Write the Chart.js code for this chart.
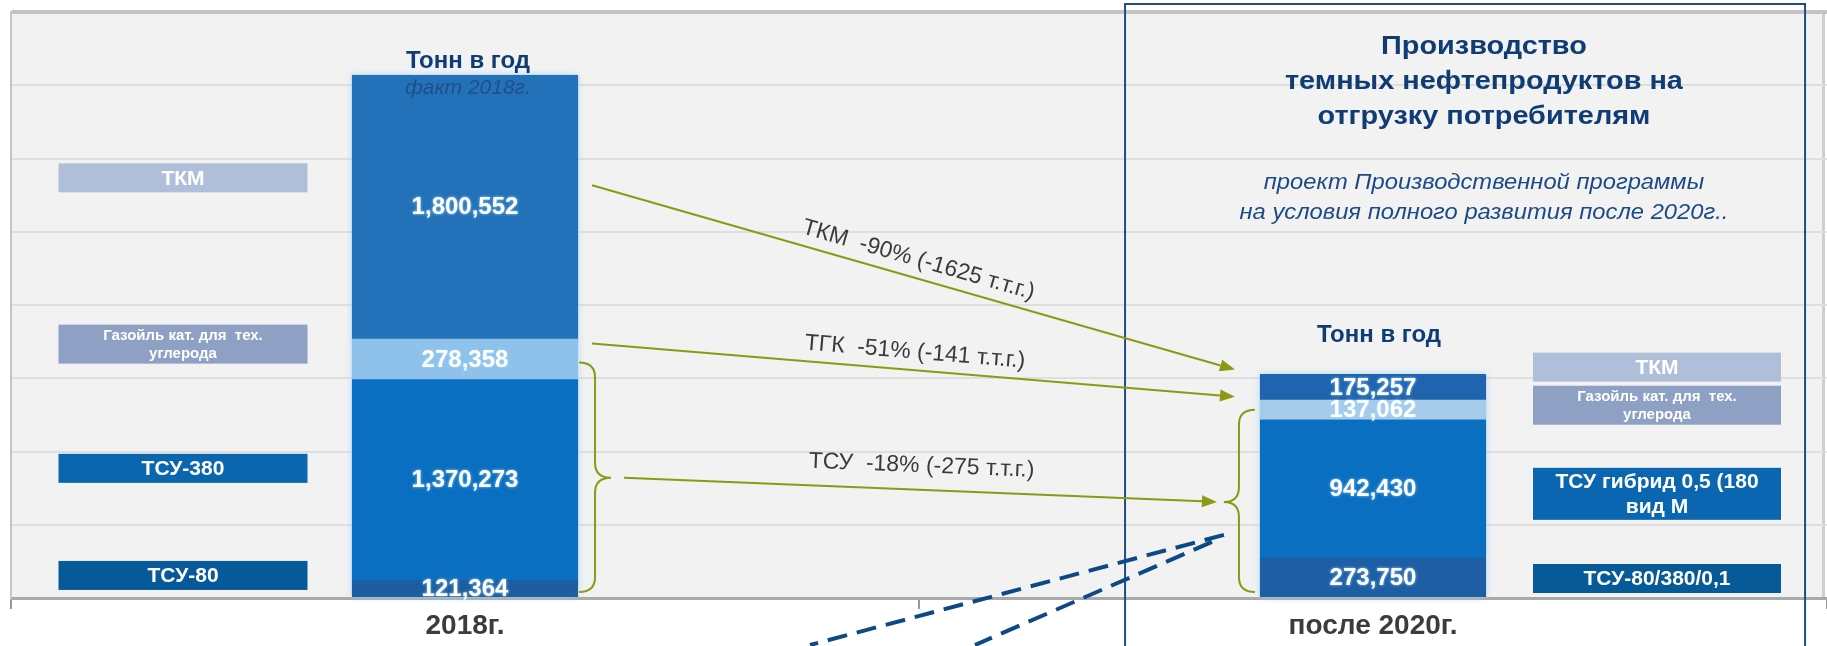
<!DOCTYPE html>
<html lang="ru">
<head>
<meta charset="utf-8">
<title>Производство темных нефтепродуктов</title>
<script src="https://cdn.jsdelivr.net/npm/chart.js@4.4.1/dist/chart.umd.min.js"></script>
<style>
  html, body { margin: 0; padding: 0; background: #ffffff; }
  canvas { display: block; }
</style>
</head>
<body>
<canvas id="chart" width="1827" height="646"></canvas>
<script>
// периоды и объемы, тонн в год
const periods = ['2018г.', 'после 2020г.'];
const tsu80 = [121364, 273750];
const tsu380 = [1370273, 942430];
const gasoil = [278358, 137062];
const tkm = [1800552, 175257];
const yMax = 4000000;
const yStep = 500000;

// подписи изменений между периодами
const shiftLabels = ['ТКМ  -90% (-1625 т.т.г.)', 'ТГК  -51% (-141 т.т.г.)', 'ТСУ  -18% (-275 т.т.г.)'];
const leftTags = [['ТКМ'], ['Газойль кат. для  тех.', 'углерода'], ['ТСУ-380'], ['ТСУ-80']];
const rightTags = [['ТКМ'], ['Газойль кат. для  тех.', 'углерода'], ['ТСУ гибрид 0,5 (180', 'вид М'], ['ТСУ-80/380/0,1']];
const panelTitle = ['Производство', 'темных нефтепродуктов на', 'отгрузку потребителям'];
const panelNote = ['проект Производственной программы', 'на условия полного развития после 2020г..'];
const barHeader = 'Тонн в год';
const factNote = 'факт 2018г.';

const FAMILY = '"Liberation Sans", Arial, sans-serif';
const NAVY = '#0f3d73';
const OLIVE = '#8b9a12';

function font(size, weight = 'normal', style = 'normal') {
  return `${style} ${weight} ${size}px ${FAMILY}`;
}

// text drawn a bit wider than the font, like the stretched slide text
function wideText(ctx, text, x, y, sx) {
  ctx.save();
  ctx.translate(x, y);
  ctx.scale(sx, 1);
  ctx.fillText(text, 0, 0);
  ctx.restore();
}

// where the arrows start/end (tonnes on y, px gap from the bar edges on x)
const arrowLayout = [
  {from: 2817000, to: 1559000, startGap: 14, endGap: 25, lift: 18},
  {from: 1737000, to: 1374000, startGap: 14, endGap: 25, lift: 18},
  {from: 820000, to: 656000, startGap: 46, endGap: 43, lift: 24},
];

// colored tags: center in tonnes, height in px
const leftTagLayout = [
  {y: 2868000, h: 29, color: '#afbfd9', size: 21},
  {y: 1733000, h: 39, color: '#8ea0c4', size: 15},
  {y: 885000, h: 29, color: '#0b66b0', size: 21},
  {y: 154000, h: 29, color: '#075a99', size: 21},
];
const rightTagLayout = [
  {y: 1576000, h: 29, color: '#afbfd9', size: 21},
  {y: 1316000, h: 39, color: '#8ea0c4', size: 15},
  {y: 711000, h: 52, color: '#0b66b1', size: 21},
  {y: 133000, h: 29, color: '#065a98', size: 21},
];

const plotBackground = {
  id: 'plotBackground',
  beforeDraw(chart) {
    const {ctx, chartArea: a} = chart;
    ctx.save();
    ctx.fillStyle = '#f2f2f2';
    ctx.fillRect(a.left, a.top, a.right - a.left - 4, a.bottom - a.top);
    ctx.fillStyle = '#cfcfcf';
    ctx.fillRect(a.right - 5, a.top, 3, a.bottom - a.top);
    ctx.restore();
  },
};

// light halo around each whole column
const barGlow = {
  id: 'barGlow',
  beforeDatasetsDraw(chart) {
    const ctx = chart.ctx;
    const first = chart.getDatasetMeta(0).data;
    const last = chart.getDatasetMeta(chart.data.datasets.length - 1).data;
    ctx.save();
    ctx.shadowColor = 'rgba(165, 215, 250, 0.95)';
    ctx.shadowBlur = 7;
    ctx.fillStyle = '#1f66b0';
    first.forEach((bar, i) => {
      ctx.fillRect(bar.x - bar.width / 2, last[i].y, bar.width, bar.base - last[i].y);
    });
    ctx.restore();
  },
};

const segmentValues = {
  id: 'segmentValues',
  afterDatasetsDraw(chart) {
    const ctx = chart.ctx;
    ctx.save();
    ctx.font = font(24, 'bold');
    ctx.textAlign = 'center';
    ctx.textBaseline = 'middle';
    ctx.fillStyle = '#ffffff';
    ctx.shadowColor = 'rgba(170, 220, 255, 0.9)';
    ctx.shadowBlur = 3;
    chart.data.datasets.forEach((ds, i) => {
      chart.getDatasetMeta(i).data.forEach((bar, j) => {
        ctx.fillText(ds.data[j].toLocaleString('en-US'), bar.x, (bar.y + bar.base) / 2 + 1);
      });
    });
    ctx.restore();
  },
};

function drawArrow(ctx, x1, y1, x2, y2) {
  const a = Math.atan2(y2 - y1, x2 - x1);
  const head = 15, half = 6;
  const bx = x2 - head * Math.cos(a), by = y2 - head * Math.sin(a);
  ctx.beginPath();
  ctx.moveTo(x1, y1);
  ctx.lineTo(bx, by);
  ctx.stroke();
  ctx.beginPath();
  ctx.moveTo(x2, y2);
  ctx.lineTo(bx + half * Math.sin(a), by - half * Math.cos(a));
  ctx.lineTo(bx - half * Math.sin(a), by + half * Math.cos(a));
  ctx.closePath();
  ctx.fill();
}

function drawBrace(ctx, xEnd, xMid, xTip, yTop, yTip, yBot) {
  const r = 15;
  ctx.beginPath();
  ctx.moveTo(xEnd, yTop);
  ctx.quadraticCurveTo(xMid, yTop, xMid, yTop + r);
  ctx.lineTo(xMid, yTip - r);
  ctx.quadraticCurveTo(xMid, yTip, xTip, yTip);
  ctx.quadraticCurveTo(xMid, yTip, xMid, yTip + r);
  ctx.lineTo(xMid, yBot - r);
  ctx.quadraticCurveTo(xMid, yBot, xEnd, yBot);
  ctx.stroke();
}

function drawTags(ctx, ys, cx, width, tags, layout) {
  tags.forEach((lines, i) => {
    const t = layout[i];
    const cy = ys.getPixelForValue(t.y);
    ctx.fillStyle = t.color;
    ctx.fillRect(cx - width / 2, cy - t.h / 2, width, t.h);
    ctx.fillStyle = '#ffffff';
    ctx.font = font(t.size, 'bold');
    const step = t.size * 1.2;
    lines.forEach((line, k) => {
      ctx.fillText(line, cx, cy + (k - (lines.length - 1) / 2) * step + 1);
    });
  });
}

const annotations = {
  id: 'annotations',
  afterDraw(chart) {
    const {ctx} = chart;
    const ys = chart.scales.y;
    const bars = chart.getDatasetMeta(0).data;
    const top = chart.getDatasetMeta(chart.data.datasets.length - 1).data;
    const left = i => bars[i].x - bars[i].width / 2;
    const right = i => bars[i].x + bars[i].width / 2;

    ctx.save();
    ctx.textAlign = 'center';
    ctx.textBaseline = 'middle';

    // рамка блока прогноза
    const px1 = right(1) - 361, px2 = right(1) + 319;
    ctx.strokeStyle = '#1f4e85';
    ctx.lineWidth = 2;
    ctx.strokeRect(px1, 4, px2 - px1, 700);

    const pc = left(1) + 224;
    ctx.fillStyle = NAVY;
    ctx.font = font(26, 'bold');
    panelTitle.forEach((line, k) => wideText(ctx, line, pc, 47 + k * 35, 1.11));
    ctx.fillStyle = '#1c4a85';
    ctx.font = font(22, 'normal', 'italic');
    panelNote.forEach((line, k) => wideText(ctx, line, pc, 183 + k * 30, 1.08));

    // заголовки над столбцами
    ctx.fillStyle = NAVY;
    ctx.font = font(24, 'bold');
    ctx.fillText(barHeader, top[0].x + 3, top[0].y - 14);
    ctx.fillText(barHeader, top[1].x + 6, top[1].y - 39);
    ctx.fillStyle = '#1f4f8a';
    ctx.font = font(21, 'normal', 'italic');
    ctx.fillText(factNote, top[0].x + 3, top[0].y + 13);

    // легенда-плашки
    drawTags(ctx, ys, bars[0].x - 282, 249, leftTags, leftTagLayout);
    drawTags(ctx, ys, bars[1].x + 284, 248, rightTags, rightTagLayout);

    // стрелки изменений
    ctx.strokeStyle = OLIVE;
    ctx.fillStyle = OLIVE;
    ctx.lineWidth = 2;
    arrowLayout.forEach((a, i) => {
      const x1 = right(0) + a.startGap, y1 = ys.getPixelForValue(a.from);
      const x2 = left(1) - a.endGap, y2 = ys.getPixelForValue(a.to);
      drawArrow(ctx, x1, y1, x2, y2);
      const ang = Math.atan2(y2 - y1, x2 - x1);
      ctx.save();
      ctx.translate((x1 + x2) / 2, (y1 + y2) / 2);
      ctx.rotate(ang);
      ctx.fillStyle = '#3a3a3a';
      ctx.font = font(23);
      ctx.fillText(shiftLabels[i], 0, -a.lift);
      ctx.restore();
    });

    // фигурные скобки
    ctx.lineWidth = 2;
    drawBrace(ctx, right(0) + 1, right(0) + 17, right(0) + 33,
      ys.getPixelForValue(1607000), ys.getPixelForValue(820000), ys.getPixelForValue(41000));
    drawBrace(ctx, left(1) - 5, left(1) - 21, left(1) - 36,
      ys.getPixelForValue(1285000), ys.getPixelForValue(656000), ys.getPixelForValue(41000));

    // пунктирные выноски
    ctx.strokeStyle = '#0d4a85';
    ctx.lineWidth = 4;
    ctx.setLineDash([20, 10]);
    ctx.beginPath();
    ctx.moveTo(left(1) - 36, ys.getPixelForValue(431000));
    ctx.lineTo(left(1) - 450, ys.getPixelForValue(-321000));
    ctx.moveTo(left(1) - 48, ys.getPixelForValue(383000));
    ctx.lineTo(left(1) - 285, ys.getPixelForValue(-321000));
    ctx.stroke();
    ctx.restore();
  },
};

new Chart(document.getElementById('chart'), {
  type: 'bar',
  data: {
    labels: periods,
    datasets: [
      {label: 'ТСУ-80', data: tsu80, backgroundColor: ['#1c5e9f', '#1d5ea5']},
      {label: 'ТСУ-380', data: tsu380, backgroundColor: '#0a6fc0'},
      {label: 'Газойль', data: gasoil, backgroundColor: ['#8ec2ea', '#a6cbea']},
      {label: 'ТКМ', data: tkm, backgroundColor: ['#2372b9', '#1f64ae']},
    ],
  },
  options: {
    responsive: false,
    animation: false,
    devicePixelRatio: 1,
    layout: {padding: {top: 12}},
    datasets: {bar: {categoryPercentage: 1, barPercentage: 0.249}},
    scales: {
      x: {
        stacked: true,
        grid: {drawOnChartArea: false, tickLength: 11, color: '#9a9a9a', lineWidth: 2, offset: true},
        border: {color: '#a9a9a9', width: 3},
        ticks: {font: {family: FAMILY, size: 28, weight: 'bold'}, color: '#3c3c3c', padding: 0},
        afterFit(scale) { scale.height = 48; },
      },
      y: {
        stacked: true,
        min: 0,
        max: yMax,
        ticks: {display: false, stepSize: yStep},
        grid: {
          drawTicks: false,
          color: (c) => (c.tick && c.tick.value === yMax ? '#c3c3c3' : '#dedede'),
          lineWidth: (c) => (c.tick && c.tick.value === yMax ? 4 : 2),
        },
        border: {color: '#c6c6c6', width: 2},
        afterFit(scale) { scale.width = 11; },
      },
    },
    plugins: {legend: {display: false}, tooltip: {enabled: false}},
  },
  plugins: [plotBackground, barGlow, segmentValues, annotations],
});
</script>
</body>
</html>
